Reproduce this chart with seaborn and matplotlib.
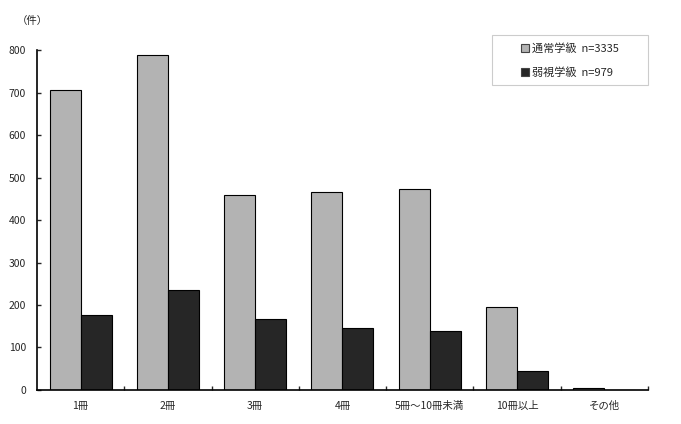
import numpy as np
import pandas as pd
import matplotlib.pyplot as plt
import seaborn as sns

# データ
categories = ['1冊', '2冊', '3冊', '4冊', '5冊～10冊未満', '10冊以上', 'その他']
series_names = ['通常学級  n=3335', '弱視学級  n=979']
normal_vals = [706, 788, 459, 466, 473, 195, 5]
lowvision_vals = [176, 235, 167, 146, 139, 45, 0]
y_ticks = [0, 100, 200, 300, 400, 500, 600, 700, 800]

df = pd.DataFrame({
    'cat': categories * 2,
    'group': [series_names[0]] * len(categories) + [series_names[1]] * len(categories),
    'value': normal_vals + lowvision_vals,
})

sns.set_style('white')
plt.rcParams['font.family'] = ['Noto Sans CJK JP', 'DejaVu Sans']

fig = plt.figure(figsize=(6.81, 4.24), dpi=100)
ax = fig.add_axes([0.0543, 0.0802, 0.8972, 0.8018])

sns.barplot(data=df, x='cat', y='value', hue='group', order=categories,
            hue_order=series_names, palette=['#b3b3b3', '#262626'],
            width=0.71, edgecolor='black', linewidth=0.8, ax=ax, legend=False)

ax.set_xlim(-0.5, len(categories) - 0.5)
ax.set_ylim(0, 800)
ax.set_yticks(y_ticks)
ax.set_xlabel('')
ax.set_ylabel('')

for s in ['top', 'right']:
    ax.spines[s].set_visible(False)
for s in ['left', 'bottom']:
    ax.spines[s].set_color('black')
    ax.spines[s].set_linewidth(1.2)

ax.tick_params(axis='y', direction='in', length=3, width=1, labelsize=7.5, pad=8, left=True)
ax.tick_params(axis='x', which='major', length=0, labelsize=7.5, pad=8)
ax.set_xticks(np.arange(0.5, len(categories) - 0.5 + 0.01, 1.0), minor=True)
ax.tick_params(axis='x', which='minor', direction='in', length=3, width=1, bottom=True)

fig.text(0.025, 0.943, '（件）', fontsize=7.5)

# 凡例（枠は手で描く）
frame = plt.Rectangle((0.7225, 0.7995), 0.229, 0.118, transform=fig.transFigure,
                      facecolor='white', edgecolor='#cccccc', linewidth=0.8, zorder=5)
fig.patches.append(frame)
handles = [plt.Rectangle((0, 0), 1, 1, facecolor=c, edgecolor='#444444', linewidth=0.8)
           for c in ['#b3b3b3', '#262626']]
leg = fig.legend(handles, series_names, loc='center',
                 bbox_to_anchor=(0.837, 0.858), fontsize=8, frameon=False,
                 handlelength=0.7, handleheight=0.7,
                 handletextpad=0.3, labelspacing=1.2, borderpad=0)
leg.set_zorder(6)

fig.savefig('out.png', dpi=100)
